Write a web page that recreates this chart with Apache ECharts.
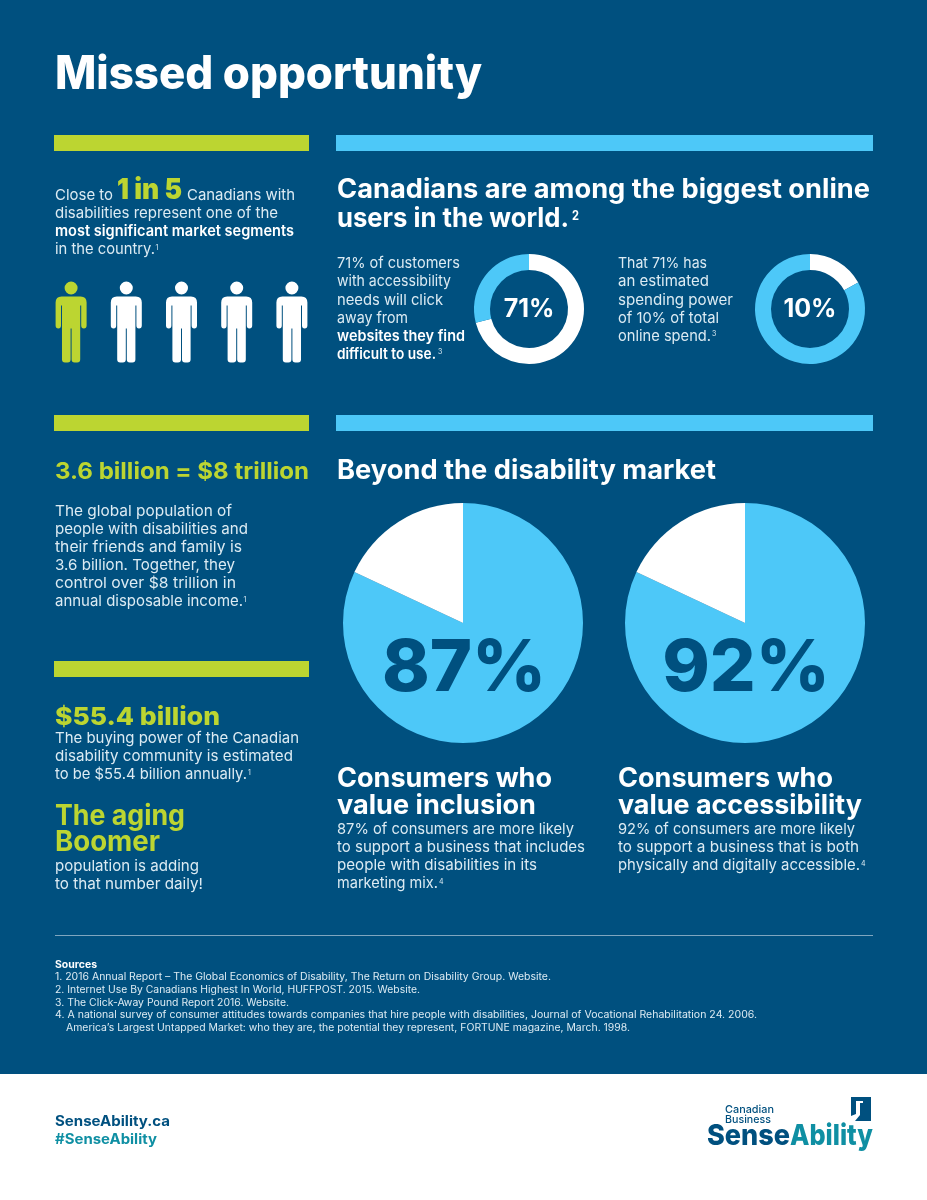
<!DOCTYPE html>
<html><head><meta charset="utf-8">
<style>html,body{margin:0;padding:0;background:#fff}#c{width:927px;height:1200px}</style>
<script src="https://cdn.jsdelivr.net/npm/echarts@6/dist/echarts.min.js"></script>
</head><body><div id="c"></div>
<script>
// ---- data ----
const peopleCategories = ['Person 1','Person 2','Person 3','Person 4','Person 5'];
const peopleHighlighted = [1,0,0,0,0];
const donutLeftSlices = [71,29];      // white, blue as drawn
const donutRightSlices = [17,83];     // white, blue as drawn
const pieLeftSlices = [82,18];        // blue, white as drawn
const pieRightSlices = [82,18];       // blue, white as drawn
const donutLabels = ['71%','10%'];
const pieLabels = ['87%','92%'];

// ---- style ----
const BG='#00507F', BLUE='#4DC8F8', GREEN='#BCD531', WHITE='#FFFFFF', TEAL='#0F8FA3', LIGHT='#DCEBF3';
const FONT='Inter';
const PERSON='path://M15.5 0A6.5 6.5 0 1 1 15.5 13A6.5 6.5 0 1 1 15.5 0ZM6 15L25 15Q31 15 31 21L31 44Q31 47 28.2 47Q25.6 47 25.6 44L25.6 24L24.6 24L24.6 78Q24.6 81 21.6 81L19 81Q16 81 16 78L16 47L15 47L15 78Q15 81 12 81L9.4 81Q6.4 81 6.4 78L6.4 24L5.4 24L5.4 44Q5.4 47 2.8 47Q0 47 0 44L0 21Q0 15 6 15Z';

const ctx=document.createElement('canvas').getContext('2d');
function T(text,x,base,size,weight,color,right,align){
  const font=weight+' '+size+'px '+FONT;
  ctx.font=font;
  let sx=1;
  if(right) sx=(right-x)/ctx.measureText(text).width;
  return {type:'text',x:x,y:base-0.36*size,scaleX:sx,z:20,silent:true,
    style:{x:0,y:0,text:text,font:font,fill:color,textAlign:align||'left',textVerticalAlign:'middle'}};
}
function R(x,y,w,h,c,z){return {type:'rect',z:z||1,silent:true,shape:{x:x,y:y,width:w,height:h},style:{fill:c}};}

const g=[];
// footer and rules
g.push(R(0,1074,927,126,WHITE));
g.push(R(54,135,255,16,GREEN),R(336,135,537,16,BLUE));
g.push(R(54,415,255,16,GREEN),R(336,415,537,16,BLUE));
g.push(R(54,661,255,16,GREEN));
g.push(R(55,935,818,1,'#7FA6BF'));

// title
g.push(T('Missed opportunity',55,92,46,800,WHITE,482));

// intro
g.push(T('Close to',55,201,15,400,LIGHT,113));
g.push(T('1 in 5',117,201,28,900,GREEN,182));
g.push(T('Canadians with',187,201,15,400,LIGHT,295));
g.push(T('disabilities represent one of the',55,219,15,400,LIGHT,278));
g.push(T('most significant market segments',55,237,15,600,WHITE,294));
g.push(T('in the country.',55,255,15,400,LIGHT,155));
g.push(T('1',155.5,250,7,400,LIGHT));

// online heading
g.push(T('Canadians are among the biggest online',337,200,27,700,WHITE,870));
g.push(T('users in the world.',337,229,27,700,WHITE,569));
g.push(T('2',572,221,13,700,WHITE,579));

[['71% of customers',269,460,400],['with accessibility',287,451,400],['needs will click',306,443,400],['away from',324,408,400],
 ['websites they find',342,465,600],['difficult to use.',360,436,600]].forEach(a=>g.push(T(a[0],337,a[1],15,a[3],a[3]>500?WHITE:LIGHT,a[2])));
g.push(T('3',438,354,7,400,LIGHT));
[['That 71% has',269,707],['an estimated',287,709],['spending power',306,733],['of 10% of total',324,719],['online spend.',342,711]].forEach(a=>g.push(T(a[0],618,a[1],15,400,LIGHT,a[2])));
g.push(T('3',712,336,7,400,LIGHT));
g.push(T(donutLabels[0],529,318,25,700,WHITE,null,'center'));
g.push(T(donutLabels[1],810,318,25,700,WHITE,null,'center'));

// 3.6 billion
g.push(T('3.6 billion = $8 trillion',55,480,23,700,GREEN,309));
[['The global population of',517,232],['people with disabilities and',535,248],['their friends and family is',553,242],['3.6 billion. Together, they',571,235],['control over $8 trillion in',589,236],['annual disposable income.',607,243]].forEach(a=>g.push(T(a[0],55,a[1],15,400,LIGHT,a[2])));
g.push(T('1',243.5,602,7,400,LIGHT));

// 55.4
g.push(T('$55.4 billion',55,726,25,800,GREEN,220));
[['The buying power of the Canadian',744,299],['disability community is estimated',762,293],['to be $55.4 billion annually.',780,247]].forEach(a=>g.push(T(a[0],55,a[1],15,400,LIGHT,a[2])));
g.push(T('1',248,775,7,400,LIGHT));
g.push(T('The aging',55,827,28,700,GREEN,185));
g.push(T('Boomer',55,853,28,700,GREEN,160));
g.push(T('population is adding',55,872,15,400,LIGHT,199));
g.push(T('to that number daily!',55,890,15,400,LIGHT,203));

// beyond
g.push(T('Beyond the disability market',337,481,27,700,WHITE,716));
g.push(T(pieLabels[0],464,695,72,800,BG,null,'center'));
g.push(T(pieLabels[1],746,695,72,800,BG,null,'center'));

g.push(T('Consumers who',337,789,27,700,WHITE,552));
g.push(T('value inclusion',337,816,27,700,WHITE,536));
[['87% of consumers are more likely',835,574],['to support a business that includes',853,585],['people with disabilities in its',871,537],['marketing mix.',889,438]].forEach(a=>g.push(T(a[0],337,a[1],15,400,LIGHT,a[2])));
g.push(T('4',439,884,7,400,LIGHT));
g.push(T('Consumers who',618,789,27,700,WHITE,833));
g.push(T('value accessibility',618,816,27,700,WHITE,862));
[['92% of consumers are more likely',835,855],['to support a business that is both',853,859],['physically and digitally accessible.',871,860]].forEach(a=>g.push(T(a[0],618,a[1],15,400,LIGHT,a[2])));
g.push(T('4',861,866,7,400,LIGHT));

// sources
g.push(T('Sources',55,969,10,700,WHITE,97));
[['1. 2016 Annual Report – The Global Economics of Disability, The Return on Disability Group. Website.',55,981,551],
 ['2. Internet Use By Canadians Highest In World, HUFFPOST. 2015. Website.',55,994,420],
 ['3. The Click-Away Pound Report 2016. Website.',55,1007,289],
 ['4. A national survey of consumer attitudes towards companies that hire people with disabilities, Journal of Vocational Rehabilitation 24. 2006.',55,1019,757],
 ['America’s Largest Untapped Market: who they are, the potential they represent, FORTUNE magazine, March. 1998.',66,1032,630]]
 .forEach(a=>g.push(T(a[0],a[1],a[2],10,400,LIGHT,a[3])));

// footer
g.push(T('SenseAbility.ca',55,1127,14,700,BG,170));
g.push(T('#SenseAbility',55,1145,14,700,TEAL,157));
g.push(T('Canadian',725,1114,11,500,BG,774));
g.push(T('Business',725,1124,11,500,BG,771));
g.push(T('Sense',707,1147,29,800,BG,790));
g.push(T('Ability',790,1147,29,800,TEAL,873));
g.push({type:'polygon',z:20,silent:true,shape:{points:[[851,1097],[871,1097],[871,1121],[855,1121],[860,1115],[860,1103],[863,1103],[863,1101],[856,1101],[856,1114],[851,1116]]},style:{fill:BG}});

function pie(id,center,radius,values,colors){
  return {type:'pie',id:id,center:center,radius:radius,startAngle:90,clockwise:true,silent:true,
    label:{show:false},labelLine:{show:false},
    data:values.map((v,i)=>({value:v,itemStyle:{color:colors[i],borderWidth:0}}))};
}
const chart=echarts.init(document.getElementById('c'),null,{renderer:'canvas',width:927,height:1200});
chart.setOption({
  animation:false,
  backgroundColor:BG,
  grid:{left:71-27.5,top:281,width:292-71+55,height:82},
  xAxis:{type:'category',data:peopleCategories,show:false,boundaryGap:true},
  yAxis:{type:'value',min:0,max:2,show:false},
  graphic:{elements:g},
  series:[
    {type:'scatter',silent:true,symbol:PERSON,symbolSize:[31,81],
     data:peopleHighlighted.map((h,i)=>({value:[i,1],itemStyle:{color:h?GREEN:WHITE,opacity:1}}))},
    pie('d1',[529,309],[39,55],donutLeftSlices,[WHITE,BLUE]),
    pie('d2',[810,309],[39,55],donutRightSlices,[WHITE,BLUE]),
    pie('p1',[463,623],[0,120],pieLeftSlices,[BLUE,WHITE]),
    pie('p2',[745,623],[0,120],pieRightSlices,[BLUE,WHITE])
  ]
});
</script></body></html>
